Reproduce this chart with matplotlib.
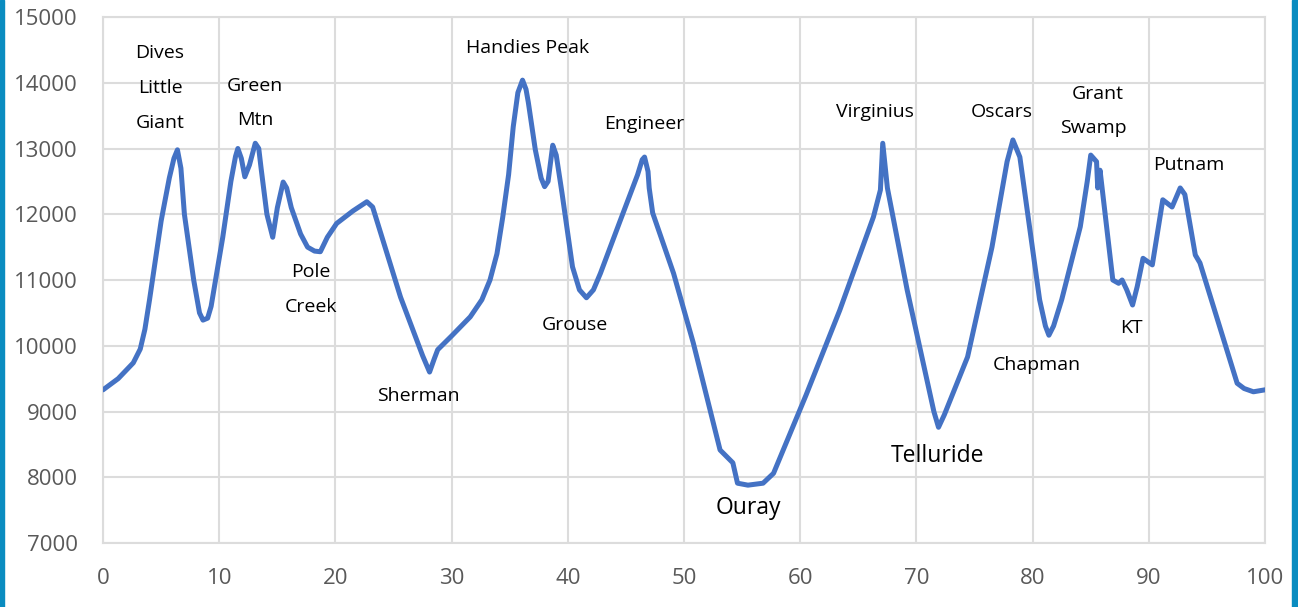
import matplotlib
matplotlib.use("Agg")
import matplotlib.pyplot as plt
from matplotlib.patches import Rectangle

plt.rcParams['font.family'] = ['Open Sans', 'DejaVu Sans']

# Jarak (mil) dan ketinggian (ft)
miles = [0, 1.3, 2.6, 3.2, 3.6, 4.0, 4.5, 5.0, 5.7, 6.1, 6.4, 6.7, 7.0, 7.8,
         8.3, 8.6, 9.0, 9.3, 10.3, 11.0, 11.4, 11.6, 11.9, 12.2, 12.6, 13.1,
         13.4, 13.6, 14.1, 14.6, 15.0, 15.5, 15.8, 16.2, 17.0, 17.6, 18.2, 18.7,
         19.3, 20.1, 21.5, 22.7, 23.2, 25.6, 27.5, 28.1, 28.5, 28.8, 30.0, 31.6,
         32.6, 33.3, 33.9, 34.4, 34.9, 35.3, 35.7, 36.1, 36.4, 36.6, 37.2, 37.7,
         38.0, 38.3, 38.7, 39.0, 39.5, 40.4, 41.0, 41.6, 42.2, 42.8, 44.5, 46.0,
         46.4, 46.6, 46.9, 47.0, 47.3, 49.1, 50.8, 53.1, 54.2, 54.6, 55.5, 56.8,
         57.7, 60.5, 63.4, 66.3, 66.9, 67.1, 67.5, 69.2, 71.5, 71.9, 72.4, 74.4,
         76.5, 77.8, 78.3, 78.9, 80.6, 81.1, 81.4, 81.8, 82.5, 84.1, 84.7, 85.0,
         85.5, 85.6, 85.8, 86.9, 87.4, 87.7, 88.1, 88.6, 89.0, 89.5, 90.3, 91.2,
         92.0, 92.7, 93.1, 94.0, 94.4, 97.6, 98.2, 99.0, 100]
elev = [9330, 9500, 9740, 9950, 10250, 10700, 11300, 11900, 12550, 12850, 12980,
        12700, 12000, 11000, 10500, 10390, 10420, 10600, 11650, 12500, 12880,
        13000, 12850, 12570, 12750, 13080, 13000, 12700, 12000, 11650, 12100,
        12490, 12400, 12100, 11700, 11500, 11440, 11430, 11650, 11860, 12050,
        12190, 12110, 10740, 9850, 9600, 9800, 9940, 10150, 10440, 10700, 11000,
        11400, 11960, 12600, 13330, 13850, 14040, 13900, 13700, 12980, 12550,
        12420, 12500, 13050, 12900, 12320, 11200, 10850, 10730, 10850, 11100,
        11900, 12600, 12830, 12870, 12650, 12400, 12020, 11100, 10040, 8415,
        8220, 7910, 7880, 7910, 8060, 9250, 10540, 11960, 12370, 13080, 12400,
        10850, 9000, 8760, 8950, 9830, 11500, 12800, 13130, 12870, 10700, 10300,
        10160, 10300, 10700, 11810, 12500, 12900, 12800, 12400, 12670, 11000,
        10950, 11000, 10850, 10620, 10900, 11330, 11230, 12220, 12110, 12400,
        12300, 11380, 11260, 9430, 9350, 9300, 9330]

# Label lokasi: (teks, x, y, ukuran)
labels = [("Dives", 4.9, 14452, 14), ("Little", 4.9, 13920, 14),
          ("Giant", 4.9, 13388, 14), ("Green", 13.1, 13950, 14),
          ("Mtn", 13.1, 13433, 14), ("Pole", 17.9, 11122, 14),
          ("Creek", 17.9, 10589, 14), ("Handies Peak", 36.5, 14529, 14),
          ("Engineer", 46.6, 13373, 14), ("Sherman", 27.1, 9236, 14),
          ("Grouse", 40.6, 10316, 14), ("Ouray", 55.5, 7532, 16.5),
          ("Virginius", 66.4, 13555, 14), ("Telluride", 71.8, 8323, 16.5),
          ("Oscars", 77.3, 13555, 14), ("Grant", 85.6, 13829, 14),
          ("Swamp", 85.2, 13312, 14), ("Chapman", 80.4, 9707, 14),
          ("KT", 88.5, 10270, 14), ("Putnam", 93.4, 12749, 14)]

fig = plt.figure(figsize=(12.98, 6.07), dpi=100)
ax = fig.add_axes([0.0794, 0.1054, 0.8952, 0.8666])

ax.plot(miles, elev, color="#4472C4", lw=3.6, solid_joinstyle="round",
        solid_capstyle="round", zorder=3)

for txt, x, y, fs in labels:
    ax.text(x, y, txt, ha="center", va="center", fontsize=fs, color="black")

ax.set_xlim(0, 100)
ax.set_ylim(7000, 15000)
ax.set_xticks(range(0, 101, 10))
ax.set_yticks(range(7000, 15001, 1000))
ax.grid(True, color="#dcdcdc", lw=1.5, zorder=0)
for s in ax.spines.values():
    s.set_color("#dcdcdc")
    s.set_linewidth(1.5)
ax.tick_params(length=0, pad=18, labelsize=16, labelcolor="#595959")

# Bingkai biru di kiri dan kanan
fig.patches.append(Rectangle((0, 0), 4 / 1298, 1, transform=fig.transFigure,
                             color="#0a8cc0", zorder=10))
fig.patches.append(Rectangle((1292 / 1298, 0), 6 / 1298, 1, transform=fig.transFigure,
                             color="#0a8cc0", zorder=10))

plt.savefig("out.png", dpi=100)
plt.close()
